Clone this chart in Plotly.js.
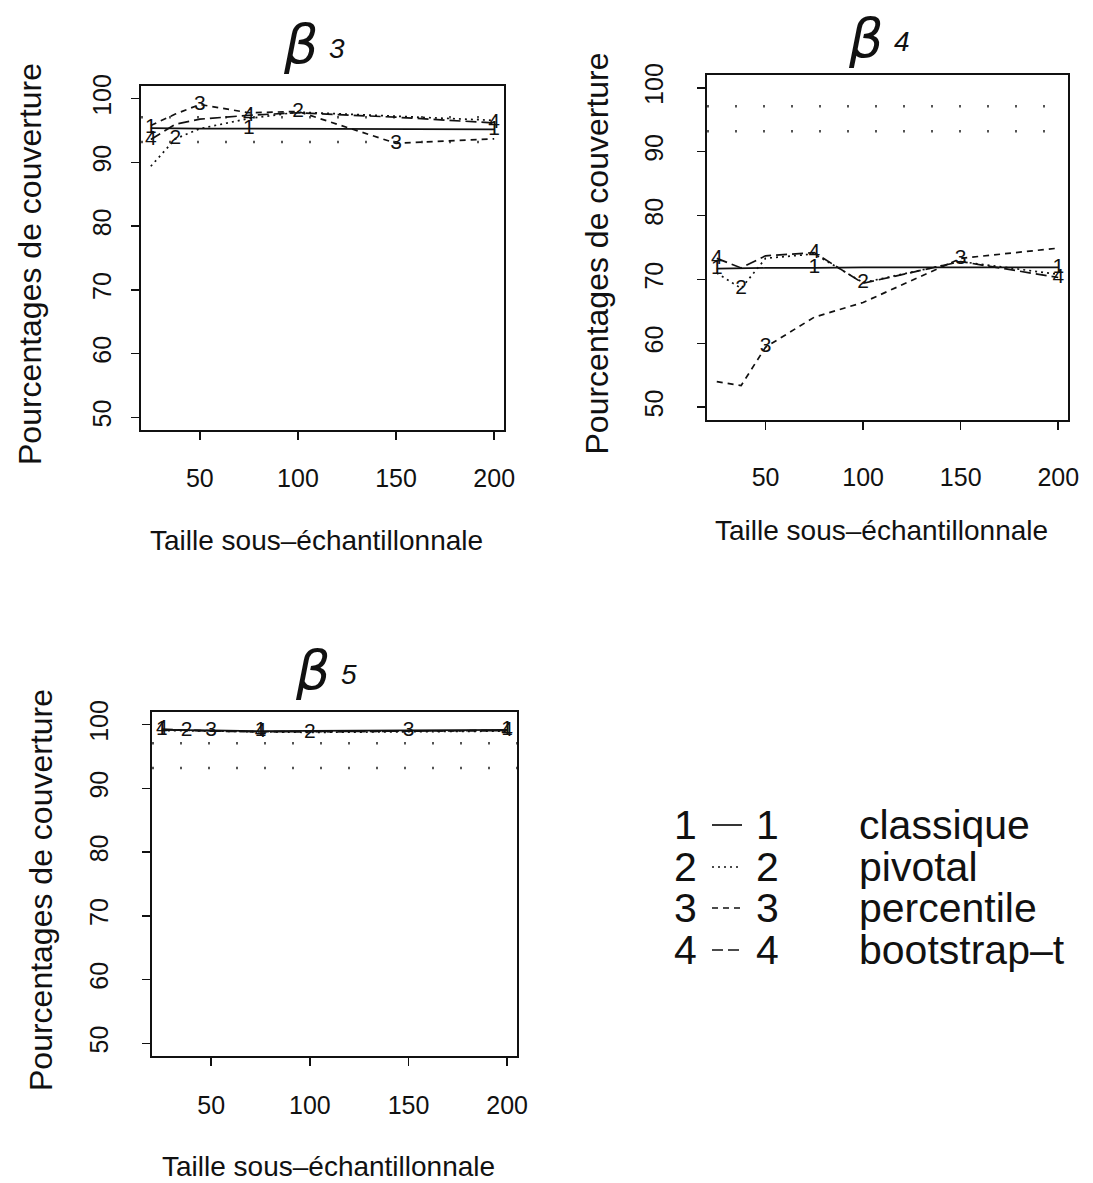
<!DOCTYPE html>
<html>
<head>
<meta charset="utf-8">
<script src="https://cdn.plot.ly/plotly-3.0.1.min.js"></script>
<style>
  html, body { margin: 0; padding: 0; background: #ffffff; }
  #chart { width: 1093px; height: 1183px; }
</style>
</head>
<body>
<div id="chart"></div>
<script>
// Sub-sample sizes (x axis)
const sampleSizes = [25, 37.5, 50, 75, 100, 150, 200];

// Coverage percentages, coefficient beta 3
const b3Classique  = [95.4, 95.3, 95.3, 95.3, 95.3, 95.2, 95.2];
const b3Pivotal    = [89.4, 93.7, 95.3, 96.9, 97.9, 97.2, 96.6];
const b3Percentile = [95.8, 97.6, 99.1, 97.8, 98.0, 93.0, 93.7];
const b3BootT      = [93.6, 96.0, 96.8, 97.4, 97.8, 97.1, 96.2];

// Coverage percentages, coefficient beta 4
const b4Classique  = [71.7, 71.8, 71.8, 71.8, 71.9, 71.9, 71.9];
const b4Pivotal    = [71.0, 68.6, 73.3, 74.0, 69.5, 72.8, 70.8];
const b4Percentile = [54.0, 53.4, 59.4, 64.1, 66.4, 73.3, 74.9];
const b4BootT      = [73.3, 71.8, 73.7, 74.2, 69.4, 72.8, 70.3];

// Coverage percentages, coefficient beta 5
const b5Classique  = [99.2, 99.2, 99.1, 99.0, 99.0, 99.1, 99.2];
const b5Pivotal    = [99.1, 99.1, 99.0, 98.9, 98.8, 98.9, 99.0];
const b5Percentile = [99.2, 99.1, 99.0, 98.9, 98.9, 99.0, 99.1];
const b5BootT      = [99.3, 99.1, 99.0, 98.9, 98.9, 99.0, 99.1];

// Bounds of the acceptance band around the nominal 95 % level
const refLevels = [93.2, 97.1];

// Method names and axis ticks
const methodNames = ['classique', 'pivotal', 'percentile', 'bootstrap–t'];
const methodCodes = ['1', '2', '3', '4'];
const xTicks = [50, 100, 150, 200];
const yTicks = [50, 60, 70, 80, 90, 100];
const panelNames = ['3', '4', '5'];

const W = 1093, H = 1183;
const FONT = 'Liberation Sans, Arial, sans-serif';
const dashes = ['solid', '2px,4px', '6px,5px', '11px,5px'];

// plot boxes in pixels (left, right, top, bottom) and label offsets per panel
const boxes = [
  {l: 141, r: 504, t: 86,  b: 430, xStand: 17, yStand: 10, titleDy: 0},
  {l: 707, r: 1068, t: 75, b: 420, xStand: 26, yStand: 24, titleDy: 5},
  {l: 152, r: 517, t: 712, b: 1056, xStand: 18, yStand: 24, titleDy: 0}
];

const panels = [
  [b3Classique, b3Pivotal, b3Percentile, b3BootT],
  [b4Classique, b4Pivotal, b4Percentile, b4BootT],
  [b5Classique, b5Pivotal, b5Percentile, b5BootT]
];

const traces = [];
const layout = {
  width: W, height: H,
  margin: {l: 0, r: 0, t: 0, b: 0},
  paper_bgcolor: '#ffffff', plot_bgcolor: '#ffffff',
  showlegend: false,
  font: {family: FONT, color: '#111'},
  shapes: [], annotations: []
};

panels.forEach((series, p) => {
  const sx = p === 0 ? '' : String(p + 1);
  const xa = 'x' + sx, ya = 'y' + sx;
  const bx = boxes[p];

  series.forEach((vals, s) => {
    traces.push({
      type: 'scatter', mode: 'lines', x: sampleSizes, y: vals,
      xaxis: xa, yaxis: ya, hoverinfo: 'skip',
      line: {color: '#111', width: 1.7, dash: dashes[s]}
    });
    // method code written on every third point, staggered per method
    const lx = [], ly = [];
    sampleSizes.forEach((v, i) => {
      if (i % 3 === s % 3) { lx.push(v); ly.push(vals[i]); }
    });
    traces.push({
      type: 'scatter', mode: 'text', x: lx, y: ly,
      text: lx.map(() => methodCodes[s]),
      textposition: 'middle center',
      textfont: {family: FONT, size: 21, color: '#111'},
      xaxis: xa, yaxis: ya, hoverinfo: 'skip'
    });
  });

  refLevels.forEach(lev => {
    layout.shapes.push({
      type: 'line', xref: xa + ' domain', yref: ya,
      x0: 0, x1: 1, y0: lev, y1: lev, layer: 'below',
      line: {color: '#555', width: 2.6, dash: '2px,26px'}
    });
  });

  const axCommon = {
    showline: true, mirror: true, linecolor: '#111', linewidth: 1.9,
    ticks: 'outside', ticklen: 8, tickwidth: 1.5, tickcolor: '#111',
    showgrid: false, zeroline: false, fixedrange: true,
    tickfont: {family: FONT, size: 25, color: '#111'}
  };
  layout['xaxis' + sx] = Object.assign({}, axCommon, {
    domain: [bx.l / W, bx.r / W], anchor: ya,
    range: [20, 205], tickvals: xTicks, ticktext: xTicks.map(String),
    ticklabelstandoff: bx.xStand
  });
  layout['yaxis' + sx] = Object.assign({}, axCommon, {
    domain: [1 - bx.b / H, 1 - bx.t / H], anchor: xa,
    range: [48, 102], tickvals: yTicks, ticktext: yTicks.map(String),
    tickangle: -90, ticklabelstandoff: bx.yStand
  });

  // axis titles
  layout.annotations.push({
    xref: 'paper', yref: 'paper',
    x: ((bx.l + bx.r) / 2 - 6) / W, y: 1 - (bx.b + 110) / H,
    text: 'Taille sous–échantillonnale', showarrow: false,
    xanchor: 'center', yanchor: 'middle',
    font: {family: FONT, size: 28, color: '#111'}
  });
  layout.annotations.push({
    xref: 'paper', yref: 'paper',
    x: (bx.l - 111) / W, y: 1 - ((bx.t + bx.b) / 2 + 6) / H,
    text: 'Pourcentages de couverture', showarrow: false, textangle: -90,
    xanchor: 'center', yanchor: 'middle',
    font: {family: FONT, size: 32, color: '#111'}
  });
  // panel title: beta with index
  const cx = (bx.l + bx.r) / 2;
  layout.annotations.push({
    xref: 'paper', yref: 'paper',
    x: (cx - 22) / W, y: 1 - (bx.t - 42 + bx.titleDy) / H,
    text: '<i>β</i>', showarrow: false, xanchor: 'center', yanchor: 'middle',
    font: {family: 'DejaVu Sans, sans-serif', size: 54, color: '#111'}
  });
  layout.annotations.push({
    xref: 'paper', yref: 'paper',
    x: (cx + 14) / W, y: 1 - (bx.t - 38 + bx.titleDy) / H,
    text: '<i>' + panelNames[p] + '</i>', showarrow: false,
    xanchor: 'center', yanchor: 'middle',
    font: {family: FONT, size: 28, color: '#111'}
  });
});

// key for the four methods
const keyRows = [825, 867, 908, 950];
methodNames.forEach((name, s) => {
  const yy = 1 - keyRows[s] / H;
  layout.shapes.push({
    type: 'line', xref: 'paper', yref: 'paper',
    x0: 712 / W, x1: 742 / W, y0: yy, y1: yy,
    line: {color: '#111', width: 1.7, dash: dashes[s]}
  });
  [[685, 'center', methodCodes[s]], [767, 'center', methodCodes[s]], [857, 'left', name]]
    .forEach(([px, anchor, txt]) => {
      layout.annotations.push({
        xref: 'paper', yref: 'paper', x: px / W, y: yy,
        text: txt, showarrow: false, xanchor: anchor, yanchor: 'middle',
        font: {family: FONT, size: 41, color: '#111'}
      });
    });
});

Plotly.newPlot('chart', traces, layout, {staticPlot: true, displayModeBar: false});
</script>
</body>
</html>
